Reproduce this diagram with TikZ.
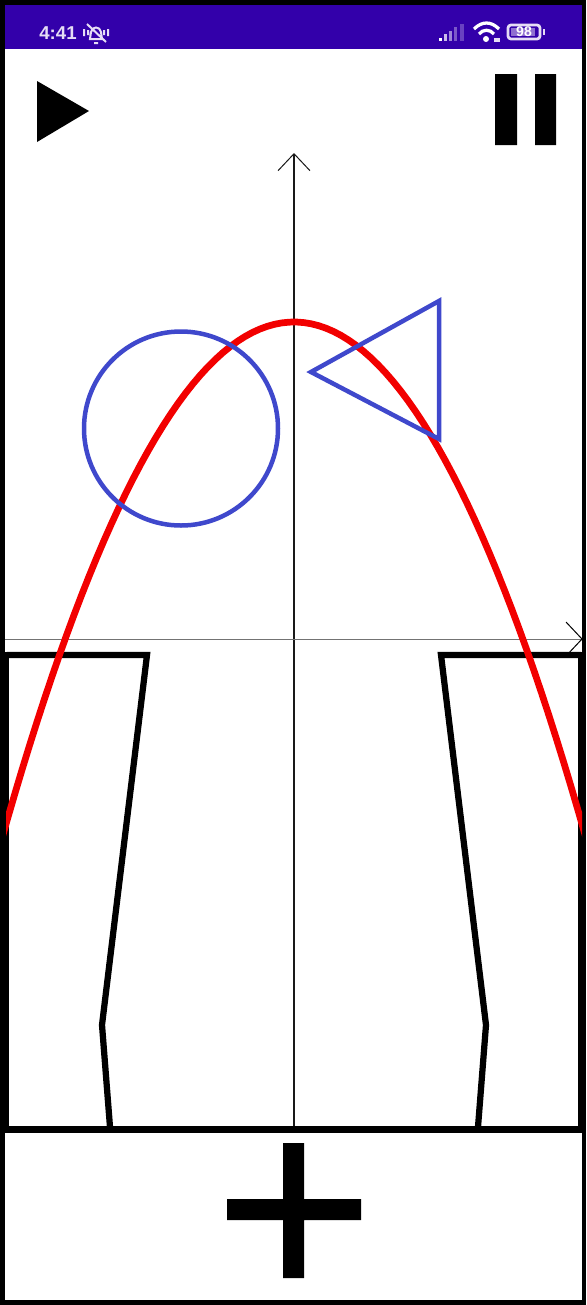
\documentclass[tikz,border=0pt]{standalone}
\usepackage{fontspec}
\setmainfont{Liberation Sans}
\usepackage{xcolor}
\usetikzlibrary{arrows.meta}
\definecolor{barpurple}{HTML}{3300AA}
\definecolor{iconlilac}{HTML}{E6DDF5}
\definecolor{batlilac}{HTML}{8F6FD0}
\definecolor{shapeblue}{HTML}{3F48CC}
\tikzset{
axisline/.style={black!90,line width=.028cm,-{Straight Barb[length=.34cm,width=.64cm,line width=.02cm]}},
wall/.style={black,line width=.125cm,miter limit=10},
curvered/.style={red!95!black,line width=.135cm},
shapeline/.style={shapeblue,line width=.09cm},
icon/.style={iconlilac,line width=.05cm},
}
\begin{document}
\begin{tikzpicture}[x=.02cm,y=-.02cm]
\useasboundingbox(0,0)rectangle(586,1305);
\fill[black](0,0)rectangle(586,1305);
\fill[white](5,5)rectangle(582,1300);
\fill[barpurple](5,5)rectangle(582,49);
%status bar
\node[iconlilac,anchor=west,inner sep=0pt,font=\fontsize{10.6pt}{12pt}\selectfont\bfseries](clock)at(39,33){4:41};
\draw[icon,line width=.04cm](90,39)--(91,32)..controls(92,26)and(100,26)..(101,32)--(102,39)--cycle
(94,43)--(98,43)
(87,24)--(106,42)
(84,29)--(84,36)(88,30)--(88,35)(104,30)--(104,35)(108,29)--(108,36);
\fill[white](439,38)rectangle(442,41);
\fill[iconlilac!85!barpurple](444,34)rectangle(447,41);
\fill[iconlilac!60!barpurple](449,31)rectangle(452,41);
\fill[iconlilac!40!barpurple](454,27)rectangle(457,41);
\fill[iconlilac!30!barpurple](460,24)rectangle(464,41);
\draw[icon,white,line width=.065cm](474,29)..controls(482,21)and(491,21)..(499,29)
(479,34)..controls(483,29)and(490,29)..(494,34);
\fill[white](486,39)circle(3);
\fill[iconlilac](494,38)rectangle(500,42);
\draw[icon,line width=.055cm,rounded corners=.06cm](508,25)rectangle(540,39);
\fill[batlilac](511,28)rectangle(535,36);
\fill[iconlilac](543,29)rectangle(545,35);
\node[white,inner sep=0pt,font=\fontsize{8pt}{9pt}\selectfont\bfseries](level)at(524,32){98};
%buttons
\fill[black](37,81)--(89,111)--(37,142)--cycle;
\fill[black](495,74)rectangle(517,145)(535,74)rectangle(556,145);
\fill[black](283,1143)rectangle(304,1278)(227,1199)rectangle(361,1220);
%axes
\draw[axisline](294,1127)--(294,153);
\draw[black!55,line width=.02cm](5,639)--(582,639);
\draw[black,line width=.02cm](566,622)--(582,639)--(566,656);
%walls
\draw[wall](6.5,655)--(147,655)--(102,1025)--(110,1127)
(581,655)--(441,655)--(486,1025)--(478,1127);
\draw[black,line width=.1cm](7,652)--(7,1127)(580.5,652)--(580.5,1127);
\draw[black,line width=.14cm](5,1129.5)--(582,1129.5);
%curve and shapes
\begin{scope}
\clip(6,300)rectangle(582,900);
\draw[curvered,domain=0:586,samples=80]plot(\x,{322+(0.0778*(\x-294))^2});
\end{scope}
\draw[shapeline](181,428.5)circle(97);
\draw[shapeline,miter limit=10](311,372)--(439,301)--(439,439)--cycle;
\end{tikzpicture}
\end{document}
